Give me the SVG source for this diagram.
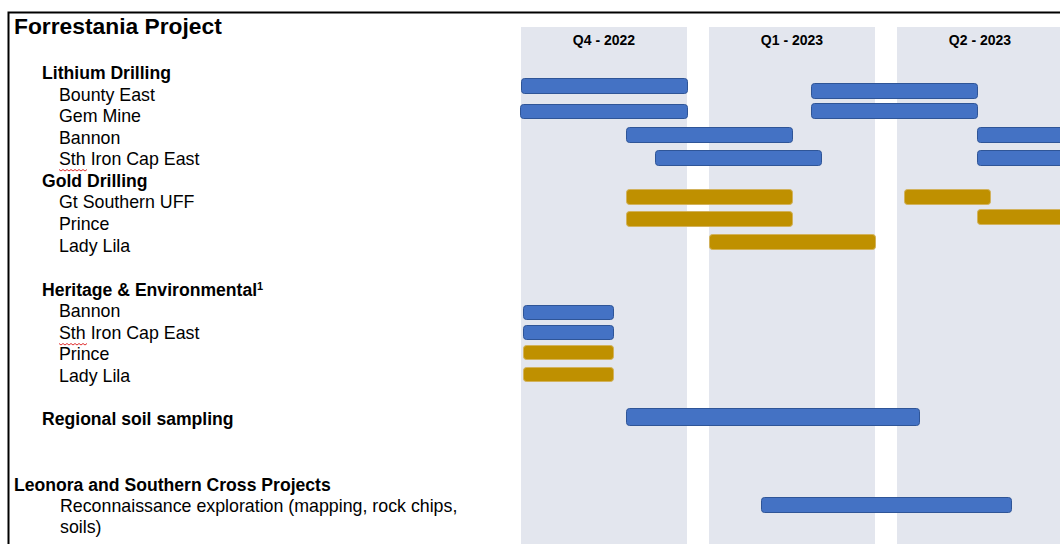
<svg xmlns="http://www.w3.org/2000/svg" width="1060" height="544" viewBox="0 0 1060 544">
<style>
.col{fill:#E3E6EE}
.q{font-family:"Liberation Sans",Arial,sans-serif;font-weight:bold;font-size:14px;fill:#000;text-anchor:middle}
.t{font-family:"Liberation Sans",Arial,sans-serif;font-size:17.8px;fill:#000}
.b{font-weight:bold;font-size:17.6px}
.title{font-family:"Liberation Sans",Arial,sans-serif;font-weight:bold;font-size:22.8px;fill:#000}
.blue{fill:#4472C4;stroke:#2F5597;stroke-width:1}
.gold{fill:#BF9000;stroke:#D2B25C;stroke-width:1}
.sq{fill:none;stroke:#E03030;stroke-width:1}
</style>
<rect width="1060" height="544" fill="#fff"/>
<g id="columns">
<rect class="col" x="521" y="27" width="166" height="517"/>
<rect class="col" x="709" y="27" width="166" height="517"/>
<rect class="col" x="897" y="27" width="163" height="517"/>
<text class="q" x="604" y="45">Q4 - 2022</text>
<text class="q" x="792" y="45">Q1 - 2023</text>
<text class="q" x="980" y="45">Q2 - 2023</text>
</g>
<g id="frame" stroke="#000" stroke-width="2" fill="none">
<path d="M1060 12.5 H8.5 V544"/>
</g>
<text class="title" x="14" y="34">Forrestania Project</text>
<g id="lithium">
<text class="t b" x="42" y="79">Lithium Drilling</text>
</g>
<g id="bounty-east">
<text class="t" x="59" y="101">Bounty East</text>
<rect class="blue" x="521.5" y="78.5" width="166" height="15" rx="3"/>
<rect class="blue" x="811.5" y="83.5" width="166" height="15" rx="3"/>
</g>
<g id="gem-mine">
<text class="t" x="59" y="122">Gem Mine</text>
<rect class="blue" x="520.5" y="104.5" width="167" height="14" rx="3"/>
<rect class="blue" x="811.5" y="103.5" width="166" height="15" rx="3"/>
</g>
<g id="bannon-li">
<text class="t" x="59" y="144">Bannon</text>
<rect class="blue" x="626.5" y="127.5" width="166" height="15" rx="3"/>
<rect class="blue" x="977.5" y="127.5" width="90" height="15" rx="3"/>
</g>
<g id="sice-li">
<text class="t" x="59" y="165">Sth Iron Cap East</text>
<path class="sq" d="M59 169.5 l2 1.5 l2 -1.5 l2 1.5 l2 -1.5 l2 1.5 l2 -1.5 l2 1.5 l2 -1.5 l2 1.5 l2 -1.5 l2 1.5 l2 -1.5 l2 1.5 l2 -1.5"/>
<rect class="blue" x="655.5" y="150.5" width="166" height="15" rx="3"/>
<rect class="blue" x="977.5" y="150.5" width="90" height="15" rx="3"/>
</g>
<g id="gold">
<text class="t b" x="42" y="187">Gold Drilling</text>
</g>
<g id="gt-southern">
<text class="t" x="59" y="208">Gt Southern UFF</text>
<rect class="gold" x="626.5" y="189.5" width="166" height="15" rx="3"/>
<rect class="gold" x="904.5" y="189.5" width="86" height="15" rx="3"/>
</g>
<g id="prince-au">
<text class="t" x="59" y="230">Prince</text>
<rect class="gold" x="626.5" y="211.5" width="166" height="15" rx="3"/>
<rect class="gold" x="977.5" y="209.5" width="90" height="15" rx="3"/>
</g>
<g id="lady-lila-au">
<text class="t" x="59" y="252">Lady Lila</text>
<rect class="gold" x="709.5" y="234.5" width="166" height="15" rx="3"/>
</g>
<g id="heritage">
<text class="t b" x="42" y="296">Heritage &amp; Environmental<tspan font-size="11" dy="-6">1</tspan></text>
</g>
<g id="bannon-he">
<text class="t" x="59" y="317">Bannon</text>
<rect class="blue" x="523.5" y="305.5" width="90" height="14" rx="3"/>
</g>
<g id="sice-he">
<text class="t" x="59" y="339">Sth Iron Cap East</text>
<path class="sq" d="M59 343.5 l2 1.5 l2 -1.5 l2 1.5 l2 -1.5 l2 1.5 l2 -1.5 l2 1.5 l2 -1.5 l2 1.5 l2 -1.5 l2 1.5 l2 -1.5 l2 1.5 l2 -1.5"/>
<rect class="blue" x="523.5" y="325.5" width="90" height="14" rx="3"/>
</g>
<g id="prince-he">
<text class="t" x="59" y="360">Prince</text>
<rect class="gold" x="523.5" y="345.5" width="90" height="14" rx="3"/>
</g>
<g id="lady-lila-he">
<text class="t" x="59" y="382">Lady Lila</text>
<rect class="gold" x="523.5" y="367.5" width="90" height="14" rx="3"/>
</g>
<g id="regional">
<text class="t b" x="42" y="425">Regional soil sampling</text>
<rect class="blue" x="626.5" y="408.5" width="293" height="17" rx="3"/>
</g>
<g id="leonora">
<text class="t b" x="14" y="491">Leonora and Southern Cross Projects</text>
</g>
<g id="recon">
<text class="t" x="60" y="512">Reconnaissance exploration (mapping, rock chips,</text>
<text class="t" x="60" y="533">soils)</text>
<rect class="blue" x="761.5" y="497.5" width="250" height="15" rx="3"/>
</g>
<g id="connectors"/>
</svg>
